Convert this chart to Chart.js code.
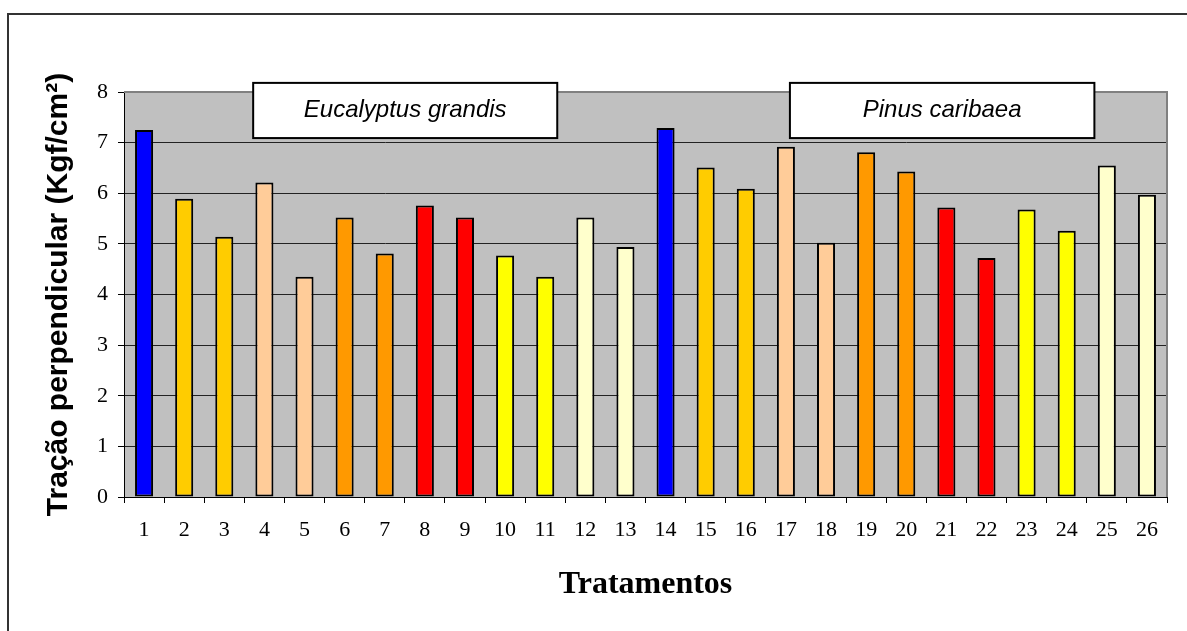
<!DOCTYPE html>
<html>
<head>
<meta charset="utf-8">
<script src="https://cdn.jsdelivr.net/npm/chart.js@4"></script>
<style>
  html, body { margin: 0; padding: 0; background: #fff; }
  canvas { display: block; }
</style>
</head>
<body>
<canvas id="tracaoChart" width="1187" height="631"></canvas>
<script>
// Data
const tratamentos = ['1','2','3','4','5','6','7','8','9','10','11','12','13',
                     '14','15','16','17','18','19','20','21','22','23','24','25','26'];
const tracao = [7.25, 5.89, 5.14, 6.21, 4.35, 5.52, 4.81, 5.76, 5.52, 4.77, 4.35, 5.52, 4.94,
                7.29, 6.51, 6.09, 6.92, 5.02, 6.81, 6.43, 5.72, 4.72, 5.68, 5.26, 6.55, 5.97];
// one colour per pair of treatments, same sequence for both species
const palette = ['#0000FF', '#FFCC00', '#FFCC00', '#FFCC99', '#FFCC99', '#FF9900', '#FF9900',
                 '#FF0000', '#FF0000', '#FFFF00', '#FFFF00', '#FFFFCC', '#FFFFCC'];
const barColors = tratamentos.map((t, i) => palette[i % 13]);
const yTicks = [0, 1, 2, 3, 4, 5, 6, 7, 8];

// species labels (box spans given in category units)
const especies = [
    { nome: 'Eucalyptus grandis', de: 2.72, ate: 10.3 },
    { nome: 'Pinus caribaea', de: 16.1, ate: 23.69 }
];

// plot background, frame and species boxes
const decoPlugin = {
    id: 'deco',
    beforeDraw(chart) {
        const { ctx, chartArea: a } = chart;
        ctx.save();
        ctx.fillStyle = '#C0C0C0';
        ctx.fillRect(a.left, a.top, a.right - a.left, a.bottom - a.top);
        // outer frame of the picture
        ctx.strokeStyle = '#333';
        ctx.lineWidth = 2;
        ctx.strokeRect(8, 14, chart.width + 20, chart.height + 20);
        ctx.restore();
    },
    afterDraw(chart) {
        const { ctx, chartArea: a, scales } = chart;
        ctx.save();
        ctx.strokeStyle = '#808080';
        ctx.lineWidth = 2;
        ctx.beginPath();
        ctx.moveTo(a.left, a.top);
        ctx.lineTo(a.right, a.top);
        ctx.lineTo(a.right, a.bottom);
        ctx.stroke();
        especies.forEach(e => {
            const x1 = scales.x.getPixelForValue(e.de);
            const x2 = scales.x.getPixelForValue(e.ate);
            const y1 = scales.y.getPixelForValue(8.18);
            const y2 = scales.y.getPixelForValue(7.09);
            ctx.fillStyle = '#fff';
            ctx.fillRect(x1, y1, x2 - x1, y2 - y1);
            ctx.strokeStyle = '#000';
            ctx.lineWidth = 2;
            ctx.strokeRect(x1, y1, x2 - x1, y2 - y1);
            ctx.fillStyle = '#000';
            ctx.font = 'italic 24px "Liberation Sans", Arial, sans-serif';
            ctx.textAlign = 'center';
            ctx.textBaseline = 'middle';
            ctx.fillText(e.nome, (x1 + x2) / 2, (y1 + y2) / 2);
        });
        ctx.restore();
    }
};

const ctx = document.getElementById('tracaoChart').getContext('2d');
const tracaoChart = new Chart(ctx, {
    type: 'bar',
    data: {
        labels: tratamentos,
        datasets: [{
            data: tracao,
            backgroundColor: barColors,
            borderColor: '#000',
            borderWidth: 2,
            borderSkipped: false,
            categoryPercentage: 1,
            barPercentage: 0.45
        }]
    },
    options: {
        responsive: false,
        animation: false,
        layout: { padding: { top: 92, right: 20, left: 0, bottom: 0 } },
        plugins: {
            legend: { display: false },
            tooltip: { enabled: false }
        },
        scales: {
            x: {
                afterFit(scale) { scale.height = 134; },
                grid: {
                    offset: true,
                    drawOnChartArea: false,
                    drawTicks: true,
                    tickLength: 6,
                    tickColor: '#000'
                },
                border: { color: '#000', width: 1 },
                ticks: {
                    color: '#000',
                    padding: 14,
                    maxRotation: 0,
                    autoSkip: false,
                    font: { family: '"Liberation Serif", "Times New Roman", serif', size: 22 }
                },
                title: {
                    display: true,
                    text: 'Tratamentos',
                    color: '#000',
                    padding: { top: 0, bottom: 27 },
                    font: { family: '"Liberation Serif", "Times New Roman", serif', size: 32, weight: 'bold' }
                }
            },
            y: {
                min: 0,
                max: 8,
                afterFit(scale) { scale.width = 124; },
                afterBuildTicks(scale) { scale.ticks = yTicks.map(v => ({ value: v })); },
                grid: {
                    color: ctx => ctx.tick && ctx.tick.value === 8 ? '#808080' : '#222',
                    lineWidth: 1,
                    drawTicks: true,
                    tickLength: 6,
                    tickColor: '#000'
                },
                border: { color: '#000', width: 1 },
                ticks: {
                    color: '#000',
                    padding: 10,
                    font: { family: '"Liberation Serif", "Times New Roman", serif', size: 22 }
                },
                title: {
                    display: true,
                    text: 'Tração perpendicular (Kgf/cm²)',
                    color: '#000',
                    padding: { top: 41, bottom: 0 },
                    font: { family: '"Liberation Sans", Arial, sans-serif', size: 30, weight: 'bold' }
                }
            }
        }
    },
    plugins: [decoPlugin]
});
</script>
</body>
</html>
